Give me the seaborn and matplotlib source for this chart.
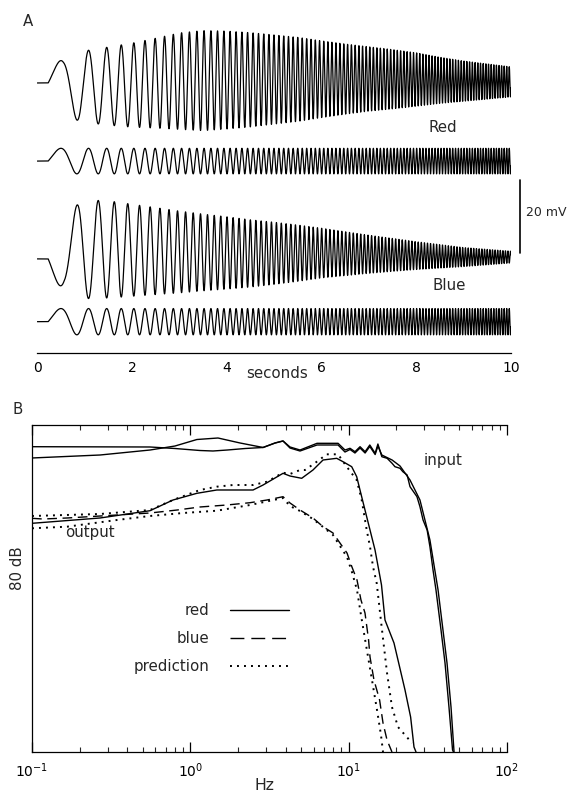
import numpy as np
import pandas as pd
import matplotlib
matplotlib.use("Agg")
import matplotlib.pyplot as plt
import seaborn as sns
from matplotlib.lines import Line2D
from matplotlib.ticker import LogLocator, NullFormatter, MultipleLocator

# ---------------- Panel A data ----------------
# chirp stimulus: start time (s), start frequency (Hz), sweep rate (Hz/s)
CHIRP_START = 0.23
CHIRP_F0 = 0.68
CHIRP_RATE = 1.85

# red output: envelope (mV) and baseline (mV)
red_env_t = [0.23, 0.55, 0.9, 1.2, 1.5, 2.0, 2.5, 3.0, 3.5, 4.0, 4.5, 5.0, 5.5,
             6.0, 6.5, 7.0, 7.5, 8.0, 8.5, 9.0, 9.5, 10.0]
red_env_mv = [6.0, 6.6, 9.9, 10.1, 10.7, 11.5, 12.3, 13.2, 13.7, 13.4, 12.9, 12.2,
              11.5, 10.5, 9.6, 8.8, 8.1, 7.3, 6.3, 5.5, 4.8, 4.1]
red_base_t = [0.0, 0.23, 1.0, 2.0, 3.0, 4.0, 5.0, 7.0, 8.0, 9.0, 10.0]
red_base_mv = [73.9, 73.9, 72.8, 73.3, 74.4, 74.7, 74.85, 75.0, 74.85, 74.4, 74.2]

# blue output (inverted response): envelope and baseline (mV)
blue_env_t = [0.23, 0.56, 0.94, 1.2, 1.5, 2.0, 2.5, 3.0, 3.5, 4.0, 4.5, 5.0, 5.5,
              6.0, 6.5, 7.0, 7.5, 8.0, 8.5, 9.0, 9.5, 10.0]
blue_env_mv = [8.2, 8.5, 13.7, 13.4, 13.3, 12.6, 11.9, 11.2, 10.5, 9.9, 9.2, 8.5,
               7.7, 6.8, 6.0, 5.2, 4.5, 3.8, 3.2, 2.6, 2.1, 1.6]
blue_base_t = [0.0, 0.23, 0.9, 1.5, 3.0, 4.5, 6.0, 7.5, 9.0, 10.0]
blue_base_mv = [25.7, 25.7, 28.4, 28.3, 27.6, 27.2, 27.3, 26.8, 26.2, 26.2]

# stimulus traces (baseline mV, amplitude mV)
red_in_base, red_in_amp = 52.5, 3.5
blue_in_base, blue_in_amp = 8.5, 3.6

time_ticks = [0, 2, 4, 6, 8, 10]

# ---------------- Panel B data (Hz, dB) ----------------
inA_hz = [0.1, 0.556, 0.80, 1.15, 1.39, 1.71, 2.22, 2.88, 3.43, 3.85, 4.26, 4.93, 6.31,
          8.57, 9.48, 10.2, 10.96, 11.8, 12.7, 13.6, 14.7, 15.3, 16.2, 17.5, 18.8,
          19.6, 21.1, 22.0, 23.4, 24.4, 27.0, 28.2, 29.5, 31.3, 32.6, 34.1, 35.6,
          38.3, 40.6, 43.0, 45.3, 45.9]
inA_db = [-5.31, -5.38, -5.75, -6.24, -6.36, -6.12, -5.75, -5.50, -4.40, -3.91, -5.38,
          -6.12, -4.48, -4.48, -6.12, -5.70, -6.53, -5.31, -6.53, -4.89, -6.92, -4.65,
          -7.76, -8.15, -9.37, -10.20, -10.59, -11.43, -12.23, -15.09, -17.54, -19.99,
          -23.24, -25.69, -29.77, -35.47, -40.37, -50.15, -58.23, -68.99, -79.51, -80.0]

inB_hz = [0.1, 0.269, 0.556, 0.80, 1.10, 1.495, 2.06, 2.88, 3.43, 3.85, 4.26, 4.93,
          6.31, 8.57, 9.48, 10.2, 10.96, 11.8, 12.7, 13.6, 14.7, 15.3, 16.2, 18.8,
          21.1, 24.4, 28.2, 32.6, 36.7, 41.8, 44.3, 46.3]
inB_db = [-8.07, -7.34, -6.12, -5.14, -3.55, -3.18, -4.40, -5.50, -4.40, -3.91, -5.63,
          -6.36, -4.89, -4.89, -6.61, -5.99, -6.85, -5.63, -6.85, -5.26, -7.22, -5.14,
          -7.34, -8.56, -10.03, -13.46, -18.35, -28.13, -40.37, -58.23, -68.99, -80.0]

red_hz = [0.1, 0.269, 0.556, 0.777, 1.10, 1.47, 1.86, 2.49, 2.88, 3.85, 4.26, 5.05,
          5.95, 6.89, 8.40, 9.21, 10.45, 11.24, 11.79, 12.68, 13.64, 14.67, 15.77,
          16.12, 16.96, 19.33, 20.98, 22.69, 24.62, 25.86, 26.63]
red_db = [-24.05, -22.75, -20.97, -18.35, -16.71, -15.90, -15.90, -15.90, -14.68,
          -11.82, -12.48, -13.04, -11.01, -8.56, -8.15, -8.98, -10.20, -12.65, -15.90,
          -20.80, -25.69, -30.58, -37.11, -39.14, -47.71, -53.33, -59.20, -64.83,
          -71.44, -78.78, -80.0]

redpred_hz = [0.1, 0.269, 0.556, 0.777, 1.15, 1.47, 1.86, 2.49, 3.05, 3.85, 4.26, 4.93,
              5.30, 6.13, 7.27, 8.57, 9.72, 11.24, 12.09, 13.00, 13.64, 14.25, 15.04,
              16.24, 17.47, 18.77, 20.49, 25.12]
redpred_db = [-22.26, -21.77, -20.80, -18.35, -15.90, -15.09, -14.68, -14.68, -13.87,
              -11.67, -11.99, -11.01, -11.01, -9.30, -7.17, -7.17, -10.20, -13.46,
              -18.35, -25.69, -29.77, -34.67, -38.73, -50.15, -60.67, -68.99, -73.88,
              -77.80]

blue_hz = [0.1, 0.1173, 0.1664, 0.344, 0.556, 0.824, 1.15, 1.705, 2.382, 3.05, 3.85,
           4.26, 4.93, 5.95, 6.89, 7.96, 8.81, 9.76, 10.49, 11.29, 11.96, 12.68, 13.36,
           13.64, 14.45, 15.68, 16.48, 17.47, 18.77]
blue_db = [-22.83, -23.0, -22.75, -22.02, -21.53, -20.80, -20.06, -19.57, -19.01,
           -18.35, -17.54, -19.08, -20.80, -22.75, -24.88, -26.42, -28.87, -31.31,
           -34.74, -37.92, -42.81, -45.99, -52.60, -56.76, -62.39, -67.28, -72.91,
           -77.07, -80.0]

bluepred_hz = [0.1, 0.1664, 0.344, 0.556, 0.899, 1.47, 2.382, 3.85, 4.26, 4.93, 5.95,
               6.89, 7.96, 8.81, 9.76, 10.49, 11.29, 11.96, 12.87, 14.04, 15.10, 16.0,
               16.48]
bluepred_db = [-25.27, -24.88, -23.24, -22.26, -21.53, -20.97, -19.57, -17.86, -19.82,
               -21.04, -23.0, -24.95, -26.91, -29.60, -32.29, -35.96, -40.37, -46.48,
               -53.82, -62.39, -69.72, -75.84, -80.0]

freq_ticks = [0.1, 1, 10, 100]

# ---------------- style ----------------
sns.set_style("white")
plt.rcParams["font.family"] = ["DejaVu Sans"]
plt.rcParams["mathtext.fontset"] = "dejavusans"
plt.rcParams["mathtext.default"] = "regular"

W, H = 572, 795
FS = 10.8
fig = plt.figure(figsize=(W / 100, H / 100), dpi=100)


def fx(x):
    return x / W


def fy(y):
    return 1 - y / H


# ---------------- Panel A ----------------
axA = fig.add_axes([fx(37.3), fy(352.7), fx(511) - fx(37.3), fy(20) - fy(352.7)])
t = np.linspace(0, 10, 40001)
tau = np.clip(t - CHIRP_START, 0, None)
cyc = CHIRP_F0 * tau + CHIRP_RATE * tau ** 2 / 2
carrier = np.where(t >= CHIRP_START, np.sin(2 * np.pi * cyc), 0.0)

red_out = np.interp(t, red_base_t, red_base_mv) + np.interp(t, red_env_t, red_env_mv) * carrier
blue_out = np.interp(t, blue_base_t, blue_base_mv) - np.interp(t, blue_env_t, blue_env_mv) * carrier
red_in = red_in_base + red_in_amp * carrier
blue_in = blue_in_base + blue_in_amp * carrier

for trace in [red_out, red_in, blue_out, blue_in]:
    df = pd.DataFrame({"t": t, "mV": trace})
    sns.lineplot(data=df, x="t", y="mV", ax=axA, color="black", lw=0.9,
                 estimator=None, sort=False, legend=False)

axA.set_xlim(0, 10)
axA.set_ylim(0, (352.7 - 20) / 3.65)
for s in ["left", "top", "right"]:
    axA.spines[s].set_visible(False)
axA.spines["bottom"].set_linewidth(0.9)
axA.spines["bottom"].set_color("black")
axA.set_xticks(time_ticks)
axA.set_xticklabels([str(v) for v in time_ticks], fontsize=10)
axA.xaxis.set_minor_locator(MultipleLocator(1))
axA.tick_params(axis="x", which="major", direction="in", length=5, width=0.9,
                pad=6, colors="black")
axA.tick_params(axis="x", which="minor", direction="in", length=2.5, width=0.8)
axA.set_yticks([])
axA.set_xlabel("")
axA.set_ylabel("")

# 20 mV scale bar
axA.plot([10.2, 10.2], [27.3, 47.3], color="black", lw=1.2, clip_on=False)
axA.text(10.31, 38.5, "20 mV", fontsize=9, va="center", ha="left")
axA.text(8.55, 61.6, "Red", fontsize=FS, ha="center", va="center")
axA.text(8.69, 18.3, "Blue", fontsize=FS, ha="center", va="center")

fig.text(fx(28), fy(21), "A", fontsize=FS, ha="center", va="center")
fig.text(fx(277), fy(374), "seconds", fontsize=FS, ha="center", va="center")

# ---------------- Panel B ----------------
axB = fig.add_axes([fx(32), fy(752), fx(507) - fx(32), fy(425) - fy(752)])
axB.set_xscale("log")

for hz, db in [(inA_hz, inA_db), (inB_hz, inB_db), (red_hz, red_db)]:
    sns.lineplot(x=hz, y=db, ax=axB, color="black", lw=1.0, estimator=None,
                 sort=False, legend=False)
sns.lineplot(x=blue_hz, y=blue_db, ax=axB, color="black", lw=1.0, estimator=None,
             sort=False, legend=False)
axB.lines[-1].set_dashes((7, 4))
for hz, db in [(redpred_hz, redpred_db), (bluepred_hz, bluepred_db)]:
    sns.lineplot(x=hz, y=db, ax=axB, color="black", lw=1.4, estimator=None,
                 sort=False, legend=False)
    axB.lines[-1].set_dashes((1, 2.6))

axB.set_xlim(0.1, 100)
axB.set_ylim(-80, 0)
axB.spines["right"].set_visible(False)
for s in ["left", "top", "bottom"]:
    axB.spines[s].set_linewidth(0.9)
    axB.spines[s].set_color("black")
axB.set_yticks([])
axB.set_xticks(freq_ticks)
axB.xaxis.set_minor_locator(LogLocator(base=10, subs=np.arange(2, 10), numticks=20))
axB.xaxis.set_minor_formatter(NullFormatter())
axB.tick_params(axis="x", which="major", direction="in", length=7, width=0.9,
                top=True, bottom=True, labelsize=10, pad=7, colors="black")
axB.tick_params(axis="x", which="minor", direction="in", length=3.5, width=0.8,
                top=True, bottom=True)
axB.set_xlabel("")
axB.set_ylabel("")

handles = [Line2D([], [], color="black", lw=1.0),
           Line2D([], [], color="black", lw=1.0, dashes=(10, 5)),
           Line2D([], [], color="black", lw=1.4, dashes=(1, 2.6))]
axB.legend(handles, ["red", "blue", "prediction"], loc="center",
           bbox_to_anchor=((211 - 32) / 475, (752 - 638.5) / 327),
           frameon=False, markerfirst=False, handlelength=3.9,
           handletextpad=1.4, labelspacing=0.85, fontsize=FS)

fig.text(fx(443), fy(460), "input", fontsize=FS, ha="center", va="center")
fig.text(fx(90), fy(532), "output", fontsize=FS, ha="center", va="center")
fig.text(fx(17), fy(568), "80 dB", fontsize=FS, ha="center", va="center",
         rotation=90)
fig.text(fx(264), fy(786), "Hz", fontsize=11.3, ha="center", va="center")
fig.text(fx(18), fy(410), "B", fontsize=FS, ha="center", va="center")

fig.savefig("out.png", dpi=100)
